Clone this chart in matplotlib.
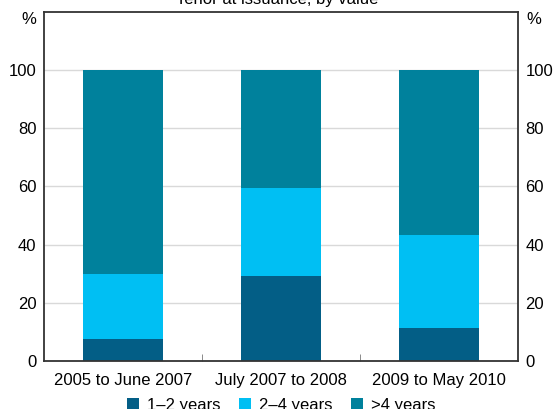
import matplotlib.pyplot as plt
import numpy as np

plt.rcParams['font.family'] = ['Liberation Sans', 'DejaVu Sans']

periods = ['2005 to June 2007', 'July 2007 to 2008', '2009 to May 2010']
series = ['1\u20132 years', '2\u20134 years', '>4 years']
short_term = [7.6, 29.3, 11.2]
mid_term = [22.4, 30.0, 32.2]
long_term = [70.0, 40.7, 56.6]
colors = ['#035e86', '#00bff3', '#00819c']

fig = plt.figure(figsize=(5.55, 4.09), dpi=100)
ax = fig.add_axes([0.0793, 0.1178, 0.854, 0.853])

x = np.arange(len(periods))
bottom = np.zeros(len(periods))
for vals, name, c in zip([short_term, mid_term, long_term], series, colors):
    ax.bar(x, vals, 0.505, bottom=bottom, color=c, label=name, zorder=2)
    bottom += np.array(vals)

ax.set_xlim(-0.5, 2.5)
ax.set_ylim(0, 120)
ax.set_yticks([0, 20, 40, 60, 80, 100])
ax.yaxis.grid(True, color='#d9d9d9', linewidth=1, zorder=0)
ax.set_axisbelow(True)

ax.set_xticks(x)
ax.set_xticklabels(periods, fontsize=12)
ax.set_xticks([0.5, 1.5], minor=True)
ax.tick_params(axis='x', which='major', length=0, pad=9)
ax.tick_params(axis='x', which='minor', direction='in', length=5, color='#777777')
ax.tick_params(axis='y', length=0, labelsize=12, pad=5.5, right=True, labelright=True)

for s in ax.spines.values():
    s.set_color('#333333')
    s.set_linewidth(1.3)

ax.text(-0.017, 117.3, '%', transform=ax.get_yaxis_transform(), ha='right', va='center', fontsize=12)
ax.text(1.017, 117.3, '%', transform=ax.get_yaxis_transform(), ha='left', va='center', fontsize=12)

fig.text(0.5, 0.99, 'Tenor at issuance, by value', ha='center', va='baseline', fontsize=12)

ax.legend(loc='upper center', bbox_to_anchor=(0.5, -0.083), ncol=3, frameon=False,
          fontsize=12, handlelength=0.75, handleheight=0.75, handletextpad=0.45,
          columnspacing=1.1, borderpad=0)

fig.savefig('out.png', dpi=100)
